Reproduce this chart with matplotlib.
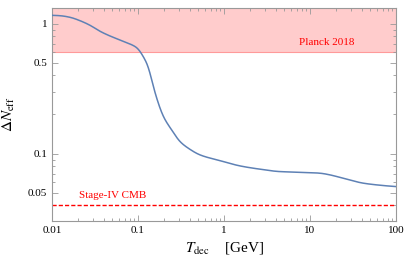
import numpy as np
import matplotlib
matplotlib.use("Agg")
import matplotlib.pyplot as plt
from matplotlib.ticker import LogLocator, FixedLocator, FixedFormatter, NullFormatter

# curve
t_dec = [0.01, 0.0124, 0.0162, 0.0212, 0.0277, 0.0361, 0.0472, 0.0617, 0.0807,
         0.0982, 0.1153, 0.1318, 0.1508, 0.1722, 0.1968, 0.2466, 0.3078, 0.3843,
         0.526, 0.8985, 1.535, 2.622, 4.48, 7.65, 13.07, 17.09, 26.7, 41.7, 65.2, 100.0]
dneff = [1.16, 1.152, 1.12, 1.054, 0.972, 0.874, 0.804, 0.749, 0.698,
         0.650, 0.557, 0.467, 0.327, 0.244, 0.193, 0.152, 0.1236, 0.110,
         0.0977, 0.0883, 0.0804, 0.0759, 0.0727, 0.0719, 0.0707, 0.0686, 0.0635, 0.0592, 0.0571, 0.0557]
planck = 0.6
stage4 = 0.04

xticks = [0.01, 0.1, 1, 10, 100]
xticklabels = ["0.01", "0.1", "1", "10", "100"]
yticks = [0.05, 0.1, 0.5, 1]
yticklabels = ["0.05", "0.1", "0.5", "1"]


def pchip(x, y, xn):
    # monotone cubic (Fritsch-Carlson), no scipy needed
    x = np.asarray(x, float)
    y = np.asarray(y, float)
    h = np.diff(x)
    d = np.diff(y) / h
    m = np.zeros_like(y)
    for k in range(1, len(x) - 1):
        if d[k - 1] * d[k] > 0:
            w1 = 2 * h[k] + h[k - 1]
            w2 = h[k] + 2 * h[k - 1]
            m[k] = (w1 + w2) / (w1 / d[k - 1] + w2 / d[k])
    m[0] = d[0]
    m[-1] = d[-1]
    i = np.clip(np.searchsorted(x, xn) - 1, 0, len(h) - 1)
    t = (xn - x[i]) / h[i]
    h00 = 2 * t**3 - 3 * t**2 + 1
    h10 = t**3 - 2 * t**2 + t
    h01 = -2 * t**3 + 3 * t**2
    h11 = t**3 - t**2
    return h00 * y[i] + h10 * h[i] * m[i] + h01 * y[i + 1] + h11 * h[i] * m[i + 1]


plt.rcParams['font.family'] = ['Liberation Serif', 'DejaVu Serif']
plt.rcParams['mathtext.fontset'] = 'stix'

fig = plt.figure(figsize=(4.07, 2.67), dpi=100)
ax = fig.add_axes([52/407, 1 - 221/267, 344/407, 213/267])

ymin, ymax = 0.0303, 1.32
ax.axhspan(planck, ymax, color='#ffcccc', lw=0, zorder=0)
ax.axhline(planck, color='#ff9a9a', lw=0.8, zorder=1)
ax.axhline(stage4, color='red', lw=1.0, ls=(0, (3, 1.5)), zorder=2)

# smooth in log space, then a light running mean to iron out reading noise
lx = np.log10(t_dec)
ly = np.log10(dneff)
fine = np.linspace(lx[0], lx[-1], 1601)
yf = pchip(lx, ly, fine)
w = 31
pad = np.concatenate([np.full(w // 2, yf[0]), yf, np.full(w // 2, yf[-1])])
ys = np.convolve(pad, np.ones(w) / w, mode='valid')
ax.plot(10**fine, 10**ys, color='#5e81b5', lw=1.1, zorder=3)

ax.text(15.8, 0.71, "Planck 2018", color='red', fontsize=8, ha='center', va='center')
ax.text(0.0513, 0.048, "Stage-IV CMB", color='red', fontsize=8, ha='center', va='center')

ax.set_xscale('log')
ax.set_yscale('log')
ax.set_xlim(0.01, 100)
ax.set_ylim(ymin, ymax)

ax.xaxis.set_major_locator(FixedLocator(xticks))
ax.xaxis.set_major_formatter(FixedFormatter(xticklabels))
ax.xaxis.set_minor_locator(LogLocator(base=10, subs=np.arange(2, 10)))
ax.xaxis.set_minor_formatter(NullFormatter())
ax.yaxis.set_major_locator(FixedLocator(yticks))
ax.yaxis.set_major_formatter(FixedFormatter(yticklabels))
ax.yaxis.set_minor_locator(LogLocator(base=10, subs=np.arange(2, 10)))
ax.yaxis.set_minor_formatter(NullFormatter())

ax.tick_params(which='both', direction='in', top=True, right=True, colors='#999999',
               labelcolor='black', labelsize=8, width=0.6)
ax.tick_params(which='major', length=4)
ax.tick_params(which='minor', length=2)
for s in ax.spines.values():
    s.set_color('#999999')
    s.set_linewidth(0.8)

ax.set_xlabel(r"$T_{\rm dec}$    [GeV]", fontsize=11)
ax.set_ylabel(r"$\Delta N_{\rm eff}$", fontsize=11, labelpad=8)

fig.savefig("out.png", dpi=100)
